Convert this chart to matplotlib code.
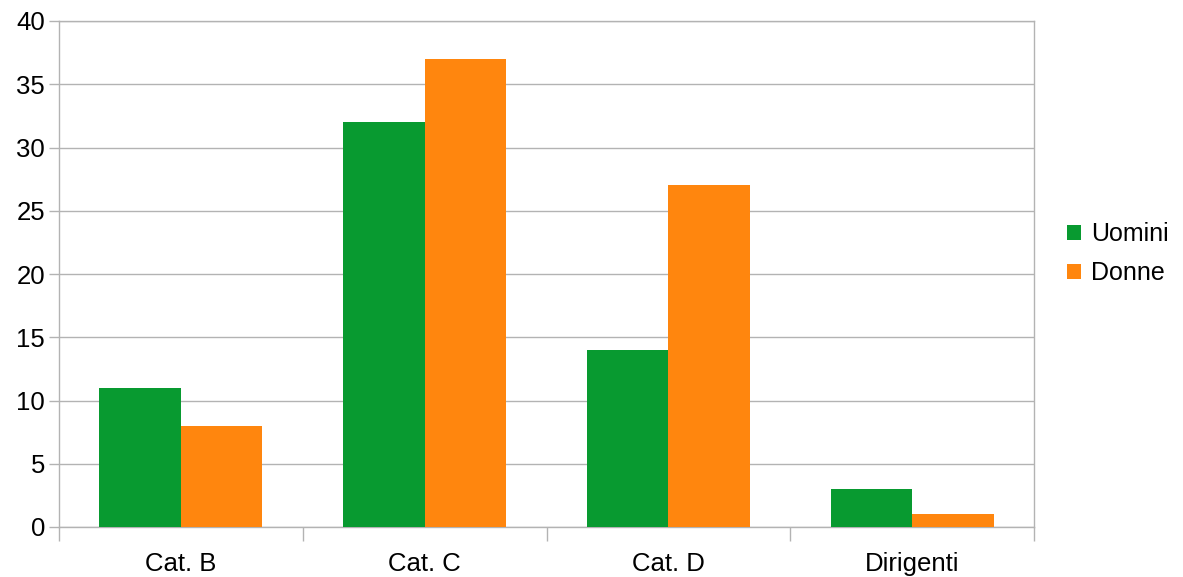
import numpy as np
import matplotlib.pyplot as plt

categories = ["Cat. B", "Cat. C", "Cat. D", "Dirigenti"]
uomini = [11, 32, 14, 3]
donne = [8, 37, 27, 1]
series_names = ["Uomini", "Donne"]
colors = ["#089a30", "#ff860e"]

plt.rcParams['font.family'] = ['Liberation Sans', 'DejaVu Sans']

fig = plt.figure(figsize=(11.83, 5.77), dpi=100)
ax = fig.add_axes([59/1183, 1 - 527/577, (1034-59)/1183, (527-21)/577])

x = np.arange(len(categories))
w = 0.334
ax.bar(x - w/2, uomini, w, color=colors[0], label=series_names[0], zorder=3)
ax.bar(x + w/2, donne, w, color=colors[1], label=series_names[1], zorder=3)

grid_c = "#b3b3b3"
fs = 18.5
ax.set_xlim(-0.5, len(categories) - 0.5)
ax.set_ylim(0, 40)
ax.set_yticks(range(0, 41, 5))
ax.yaxis.grid(True, color=grid_c, linewidth=1, zorder=0)
ax.tick_params(axis='y', length=7, color=grid_c, width=1, labelsize=fs, pad=3)

ax.set_xticks(x)
ax.set_xticklabels(categories)
ax.set_xticks(np.arange(-0.5, len(categories)), minor=True)
ax.tick_params(axis='x', which='major', length=0, labelsize=fs, pad=18)
ax.tick_params(axis='x', which='minor', length=10, color=grid_c, width=1)

for s in ax.spines.values():
    s.set_color(grid_c)
    s.set_linewidth(1)

ax.legend(loc='center left', bbox_to_anchor=(1.024, 0.54), frameon=False,
          fontsize=18, handlelength=0.55, handleheight=0.55, handletextpad=0.4,
          labelspacing=0.6, borderaxespad=0)

fig.savefig("out.png", dpi=100)
